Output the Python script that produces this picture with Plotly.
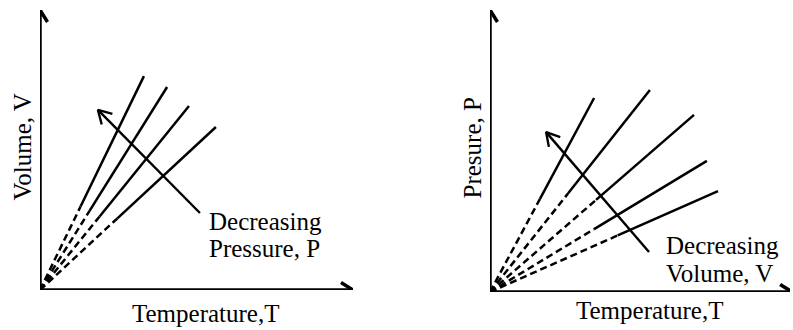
import math
import plotly.graph_objects as go

# ---------------- data ----------------
# Left panel: Volume vs Temperature, lines at different pressures
left_end_x = [3.32, 4.06, 4.76, 5.62]
left_end_y = [7.64, 7.25, 6.57, 5.82]
left_solid_from = [0.39, 0.39, 0.40, 0.44]
left_arrow_tail = [5.11, 2.75]
left_arrow_head = [1.85, 6.43]

# Right panel: Pressure vs Temperature, lines at different volumes
right_end_x = [3.47, 5.33, 6.80, 7.23, 7.60]
right_end_y = [6.88, 7.16, 6.28, 4.65, 3.58]
right_solid_from = [0.48, 0.49, 0.52, 0.48, 0.56]
right_arrow_tail = [5.30, 1.42]
right_arrow_head = [1.87, 5.67]

x_labels = ["Temperature,T", "Temperature,T"]
y_labels = ["Volume, V", "Presure, P"]
notes = [["Decreasing", "Pressure, P"], ["Decreasing", "Volume, V"]]

# ---------------- layout geometry ----------------
W, H = 793, 330
FONT = "Liberation Serif"
FS = 25

panels = {
    "L": dict(xa="x", ya="y", px0=40, px1=353, py0=290, py1=10, xmax_axis=10.0),
    "R": dict(xa="x2", ya="y2", px0=490, px1=790, py0=292, py1=10, xmax_axis=10.07),
}
for p in panels.values():
    p["sx"] = (p["px1"] - p["px0"]) / 10.0
    p["sy"] = (p["py0"] - p["py1"]) / 10.0

fig = go.Figure()


def line(p, xs, ys, width, dash="solid"):
    fig.add_trace(go.Scatter(x=xs, y=ys, mode="lines", xaxis=p["xa"], yaxis=p["ya"],
                             line=dict(color="black", width=width, dash=dash),
                             hoverinfo="skip", showlegend=False, cliponaxis=False))


def arrow(p, tail, head, width, L=11, Wd=6.5):
    line(p, [tail[0], head[0]], [tail[1], head[1]], width)
    dxp = (head[0] - tail[0]) * p["sx"]
    dyp = (head[1] - tail[1]) * p["sy"]
    n = math.hypot(dxp, dyp)
    ux, uy = dxp / n, dyp / n
    nx, ny = -uy, ux
    w1 = (head[0] + (-L * ux + Wd * nx) / p["sx"], head[1] + (-L * uy + Wd * ny) / p["sy"])
    w2 = (head[0] + (-L * ux - Wd * nx) / p["sx"], head[1] + (-L * uy - Wd * ny) / p["sy"])
    line(p, [w1[0], head[0], w2[0]], [w1[1], head[1], w2[1]], width)


def panel(p, ex, ey, sf, tail, head):
    arrow(p, (0, 0), (0, 10), 3.5, L=12, Wd=7.5)
    arrow(p, (0, 0), (p["xmax_axis"], 0), 3.5, L=12, Wd=7.5)
    for x1, y1, t in zip(ex, ey, sf):
        line(p, [0, x1 * t], [0, y1 * t], 2.5, dash="7px,4px")
        line(p, [x1 * t, x1], [y1 * t, y1], 2.5)
    arrow(p, tail, head, 2.4, L=13, Wd=7.5)


panel(panels["L"], left_end_x, left_end_y, left_solid_from, left_arrow_tail, left_arrow_head)
panel(panels["R"], right_end_x, right_end_y, right_solid_from, right_arrow_tail, right_arrow_head)


def ann(px, py, text, xanchor="center", angle=0):
    fig.add_annotation(x=px / W, y=1 - py / H, xref="paper", yref="paper", text=text,
                       showarrow=False, xanchor=xanchor, yanchor="middle", textangle=angle,
                       borderpad=0, font=dict(family=FONT, size=FS, color="black"))


ann(205, 313.5, x_labels[0])
ann(21.5, 147, y_labels[0], angle=-90)
ann(208, 221.5, notes[0][0], xanchor="left")
ann(208, 248.5, notes[0][1], xanchor="left")

ann(649, 310, x_labels[1])
ann(471.5, 148, y_labels[1], angle=-90)
ann(665, 245, notes[1][0], xanchor="left")
ann(665, 273.5, notes[1][1], xanchor="left")


def dom(p):
    return ([p["px0"] / W, p["px1"] / W], [(H - p["py0"]) / H, (H - p["py1"]) / H])


pl, pr = panels["L"], panels["R"]
dlx, dly = dom(pl)
drx, dry = dom(pr)
ax_common = dict(visible=False, showgrid=False, zeroline=False, fixedrange=True)
fig.update_layout(
    width=W, height=H, margin=dict(l=0, r=0, t=0, b=0),
    paper_bgcolor="white", plot_bgcolor="white", showlegend=False,
    xaxis=dict(domain=dlx, range=[0, 10], **ax_common),
    yaxis=dict(domain=dly, range=[0, 10], **ax_common),
    xaxis2=dict(domain=drx, range=[0, 10], anchor="y2", **ax_common),
    yaxis2=dict(domain=dry, range=[0, 10], anchor="x2", **ax_common),
)

fig.write_html("out.html", config={"displayModeBar": False},
               post_script="document.body.style.margin='0';document.body.style.overflow='hidden';")
